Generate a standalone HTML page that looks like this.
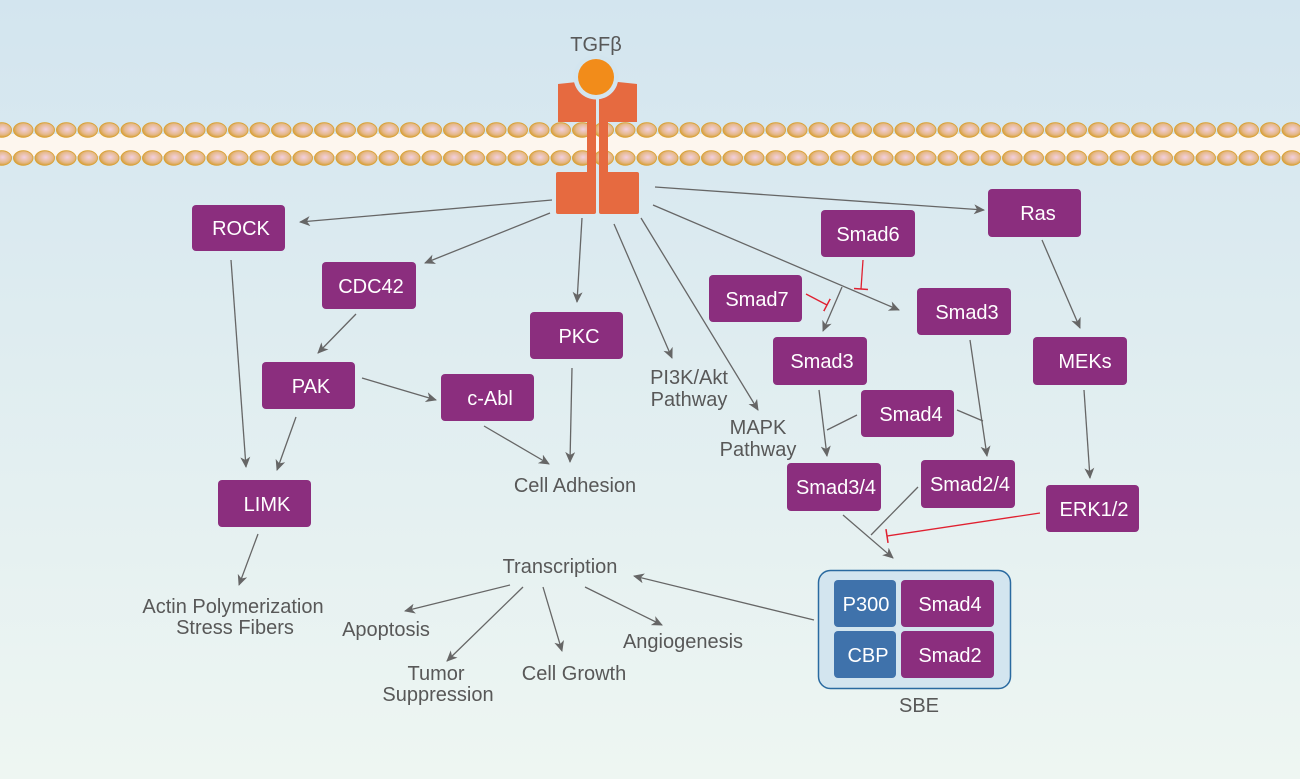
<!DOCTYPE html>
<html><head><meta charset="utf-8"><style>
html,body{margin:0;padding:0;width:1300px;height:779px;overflow:hidden}
svg text{font-family:"Liberation Sans",sans-serif}
.b{fill:#8b2e7e}
.w{fill:#fff;font-size:20px;text-anchor:middle}
.g{fill:#585858;font-size:20px;text-anchor:middle}
.l{stroke:#666;stroke-width:1.3;fill:none}
.r{stroke:#e02030;stroke-width:1.3;fill:none}
</style></head><body>
<svg width="1300" height="779" viewBox="0 0 1300 779" xmlns="http://www.w3.org/2000/svg">
<defs>
<linearGradient id="bg" x1="0" y1="0" x2="0" y2="1"><stop offset="0" stop-color="#d3e5ef"/><stop offset="1" stop-color="#eef6f2"/></linearGradient>
<radialGradient id="bd" cx="0.55" cy="0.45" r="0.6"><stop offset="0" stop-color="#f2d0e0"/><stop offset="0.6" stop-color="#e6b98c"/><stop offset="1" stop-color="#d49a2a"/></radialGradient>
<pattern id="beads" x="-9" y="122" width="21.5" height="46" patternUnits="userSpaceOnUse">
<ellipse cx="10.75" cy="8" rx="9.8" ry="7.3" fill="url(#bd)" stroke="#d9a030" stroke-width="0.8"/>
<ellipse cx="10.75" cy="36" rx="9.8" ry="7.3" fill="url(#bd)" stroke="#d9a030" stroke-width="0.8"/>
</pattern>
<marker id="a" markerWidth="12" markerHeight="10" refX="10" refY="5" orient="auto" markerUnits="userSpaceOnUse"><path d="M0,0 L11,5 L0,10 L3,5 Z" fill="#666"/></marker>
<marker id="t" markerWidth="4" markerHeight="14" refX="2" refY="7" orient="auto" markerUnits="userSpaceOnUse"><path d="M2,0 L2,14" stroke="#e02030" stroke-width="1.5"/></marker>
</defs>
<rect width="1300" height="779" fill="url(#bg)"/>
<rect x="0" y="134" width="1300" height="22" fill="#fdf6ee"/>
<rect x="0" y="122" width="1300" height="46" fill="url(#beads)"/>
<!-- receptor -->
<g fill="#e66a40">
<path d="M558,84 L596,80 L596,122 L558,122 Z"/>
<rect x="587" y="120" width="9" height="54"/>
<rect x="556" y="172" width="40" height="42" rx="2"/>
<path d="M599,80 L637,84 L637,122 L599,122 Z"/>
<rect x="599" y="120" width="9" height="54"/>
<rect x="599" y="172" width="40" height="42" rx="2"/>
</g>
<circle cx="596" cy="77" r="22.5" fill="#d3e5ef"/>
<circle cx="596" cy="77" r="18" fill="#f28c1a"/>
<text x="596" y="51" class="g">TGFβ</text>
<!-- connectors -->
<path class="l" marker-end="url(#a)" d="M552,200 L300,222"/>
<path class="l" marker-end="url(#a)" d="M550,213 L425,263"/>
<path class="l" marker-end="url(#a)" d="M582,218 L577,302"/>
<path class="l" marker-end="url(#a)" d="M614,224 L672,358"/>
<path class="l" marker-end="url(#a)" d="M641,218 L758,410"/>
<path class="l" marker-end="url(#a)" d="M653,205 L899,310"/>
<path class="l" marker-end="url(#a)" d="M655,187 L984,210"/>
<path class="l" marker-end="url(#a)" d="M842,287 L823,331"/>
<path class="r" marker-end="url(#t)" d="M863,260 L861,289"/>
<path class="r" marker-end="url(#t)" d="M806,294 L827,305"/>
<path class="l" marker-end="url(#a)" d="M1042,240 L1080,328"/>
<path class="l" marker-end="url(#a)" d="M1084,390 L1090,478"/>
<path class="r" marker-end="url(#t)" d="M1040,513 L887,536"/>
<path class="l" marker-end="url(#a)" d="M231,260 L246,467"/>
<path class="l" marker-end="url(#a)" d="M356,314 L318,353"/>
<path class="l" marker-end="url(#a)" d="M296,417 L277,470"/>
<path class="l" marker-end="url(#a)" d="M362,378 L436,400"/>
<path class="l" marker-end="url(#a)" d="M484,426 L549,464"/>
<path class="l" marker-end="url(#a)" d="M572,368 L570,462"/>
<path class="l" marker-end="url(#a)" d="M258,534 L239,585"/>
<path class="l" marker-end="url(#a)" d="M819,390 L827,456"/>
<path class="l" d="M857,415 L827,430"/>
<path class="l" marker-end="url(#a)" d="M970,340 L987,456"/>
<path class="l" d="M957,410 L983,421"/>
<path class="l" marker-end="url(#a)" d="M843,515 L893,558"/>
<path class="l" d="M918,487 L871,535"/>
<path class="l" marker-end="url(#a)" d="M814,620 L634,576"/>
<path class="l" marker-end="url(#a)" d="M510,585 L405,611"/>
<path class="l" marker-end="url(#a)" d="M523,587 L447,661"/>
<path class="l" marker-end="url(#a)" d="M543,587 L562,651"/>
<path class="l" marker-end="url(#a)" d="M585,587 L662,625"/>
<!-- boxes -->
<g>
<rect class="b" x="192" y="205" width="93" height="46" rx="4"/><text class="w" x="241" y="235">ROCK</text>
<rect class="b" x="322" y="262" width="94" height="47" rx="4"/><text class="w" x="371" y="293">CDC42</text>
<rect class="b" x="262" y="362" width="93" height="47" rx="4"/><text class="w" x="311" y="393">PAK</text>
<rect class="b" x="441" y="374" width="93" height="47" rx="4"/><text class="w" x="490" y="405">c-Abl</text>
<rect class="b" x="530" y="312" width="93" height="47" rx="4"/><text class="w" x="579" y="343">PKC</text>
<rect class="b" x="218" y="480" width="93" height="47" rx="4"/><text class="w" x="267" y="511">LIMK</text>
<rect class="b" x="821" y="210" width="94" height="47" rx="4"/><text class="w" x="868" y="241">Smad6</text>
<rect class="b" x="709" y="275" width="93" height="47" rx="4"/><text class="w" x="757" y="306">Smad7</text>
<rect class="b" x="773" y="337" width="94" height="48" rx="4"/><text class="w" x="822" y="368">Smad3</text>
<rect class="b" x="917" y="288" width="94" height="47" rx="4"/><text class="w" x="967" y="319">Smad3</text>
<rect class="b" x="861" y="390" width="93" height="47" rx="4"/><text class="w" x="911" y="421">Smad4</text>
<rect class="b" x="787" y="463" width="94" height="48" rx="4"/><text class="w" x="836" y="494">Smad3/4</text>
<rect class="b" x="921" y="460" width="94" height="48" rx="4"/><text class="w" x="970" y="491">Smad2/4</text>
<rect class="b" x="988" y="189" width="93" height="48" rx="4"/><text class="w" x="1038" y="220">Ras</text>
<rect class="b" x="1033" y="337" width="94" height="48" rx="4"/><text class="w" x="1085" y="368">MEKs</text>
<rect class="b" x="1046" y="485" width="93" height="47" rx="4"/><text class="w" x="1094" y="516">ERK1/2</text>
</g>
<rect x="818.5" y="570.5" width="192" height="118" rx="12" fill="#d3e5ef" stroke="#2a6aa0" stroke-width="1.5"/>
<rect x="834" y="580" width="62" height="47" rx="4" fill="#3f72ab"/><text class="w" x="866" y="611">P300</text>
<rect class="b" x="901" y="580" width="93" height="47" rx="4"/><text class="w" x="950" y="611">Smad4</text>
<rect x="834" y="631" width="62" height="47" rx="4" fill="#3f72ab"/><text class="w" x="868" y="662">CBP</text>
<rect class="b" x="901" y="631" width="93" height="47" rx="4"/><text class="w" x="950" y="662">Smad2</text>
<!-- labels -->
<text class="g" x="919" y="712">SBE</text>
<text class="g" x="575" y="492">Cell Adhesion</text>
<text class="g" x="689" y="384">PI3K/Akt</text>
<text class="g" x="689" y="406">Pathway</text>
<text class="g" x="758" y="434">MAPK</text>
<text class="g" x="758" y="456">Pathway</text>
<text class="g" x="560" y="573">Transcription</text>
<text class="g" x="233" y="613">Actin Polymerization</text>
<text class="g" x="235" y="634">Stress Fibers</text>
<text class="g" x="386" y="636">Apoptosis</text>
<text class="g" x="436" y="680">Tumor</text>
<text class="g" x="438" y="701">Suppression</text>
<text class="g" x="574" y="680">Cell Growth</text>
<text class="g" x="683" y="648">Angiogenesis</text>
</svg>
</body></html>
